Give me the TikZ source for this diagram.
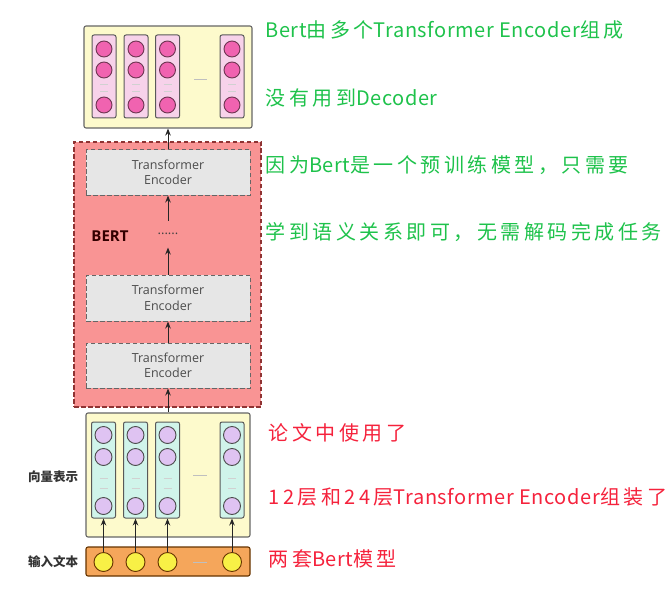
\documentclass[tikz,border=0pt]{standalone}
\usepackage{fontspec}
\setmainfont{Open Sans}
\newfontfamily\cjk{Noto Sans CJK SC}
\newfontfamily\notecjk[LetterSpace=17.5]{Noto Sans CJK SC}
\newfontfamily\notelat[LetterSpace=3]{Noto Sans CJK SC}
\usetikzlibrary{arrows.meta}
\newcommand{\engl}[1]{{\notelat #1}}
\definecolor{paleyellow}{HTML}{FDFACC}
\definecolor{palepink}{HTML}{F7D2EA}
\definecolor{hotpink}{HTML}{F063B0}
\definecolor{plum}{HTML}{6E3552}
\definecolor{salmon}{HTML}{F99494}
\definecolor{encgray}{HTML}{E6E6E6}
\definecolor{mint}{HTML}{D0F4EA}
\definecolor{lavender}{HTML}{DFC3F2}
\definecolor{orangebox}{HTML}{F5A65B}
\definecolor{yellowdot}{HTML}{F8F046}
\definecolor{notegreen}{HTML}{1EC24B}
\definecolor{notered}{HTML}{F5223C}
\tikzset{
  >={Stealth[length=7pt,width=5.5pt]},
  bigbox/.style={draw=gray!80!black, rounded corners=2pt, line width=1.1pt, inner sep=0pt},
  colbox/.style={draw=black!65, rounded corners=2pt, line width=1pt, inner sep=0pt,
    minimum width=24pt, minimum height=#1},
  dot/.style={circle, draw=#1, line width=0.9pt, inner sep=0pt, minimum size=16pt},
  dashline/.style={dash pattern=on 4.5pt off 2.5pt},
  encbox/.style={draw=black!60, dashline, line width=1pt, fill=encgray, inner sep=0pt,
    minimum width=164pt, minimum height=45pt, align=center, text=black!70,
    font=\fontsize{12.5}{15.5}\selectfont},
  sidelbl/.style={font=\cjk\bfseries\fontsize{12.5}{14}\selectfont, text=black!80},
  note/.style={anchor=west, inner sep=0pt, text=#1, font=\notecjk\fontsize{20}{24}\selectfont},
  gapmark/.style={draw=black!25, line width=0.8pt},
  faint/.style={draw=black!18, line width=0.6pt},
}

\begin{document}
\begin{tikzpicture}[x=1pt, y=-1pt, ->, line width=1pt, draw=black!85]
\useasboundingbox (0,0) rectangle (668,588);

% output vectors
\node[bigbox, fill=paleyellow, minimum width=168pt, minimum height=102pt] (out) at (168,77) {};
\foreach \x/\n in {104/1,136/2,167.5/3,232/4} {
  \node[colbox=83pt, fill=palepink] (oc\n) at (\x,76.5) {};
  \foreach \y in {49,70,105}
    \node[dot=plum, fill=hotpink] at (\x,\y) {};
  \draw[faint,-] (\x-4,84) -- (\x+4,84);
  \draw[faint,-] (\x-4,91) -- (\x+4,91);
}
\draw[gapmark,-] (194,79) -- (207,79);

% BERT stack
\node[bigbox, draw=black!55!red!80, dashline, line width=1.2pt, rounded corners=0pt, fill=salmon,
  minimum width=187pt, minimum height=265pt] (bert) at (167.5,274.5) {};
\node[encbox] (enc3) at (168,172.5) {Transformer\\Encoder};
\node[encbox, minimum height=46pt] (enc2) at (168,298) {Transformer\\Encoder};
\node[encbox] (enc1) at (168,365.5) {Transformer\\Encoder};
\node[font=\bfseries\fontsize{15}{18}\selectfont, text=black!80!red] (bertlbl) at (110,236) {BERT};
\node[inner sep=0pt, minimum height=26pt, font=\fontsize{13}{14}\selectfont, text=black!75] (dots) at (168,234) {......};

% input vectors
\node[bigbox, fill=paleyellow, minimum width=164pt, minimum height=124pt] (vec) at (168,475) {};
\node[bigbox, draw=black!60!orange, fill=orangebox, minimum width=164pt, minimum height=29pt] (inp) at (168,561.5) {};
\foreach \x/\n in {103.5/1,135.5/2,167.5/3,232/4} {
  \node[colbox=96pt, fill=mint] (vc\n) at (\x,470) {};
  \foreach \y in {435,457,506}
    \node[dot=black!70, fill=lavender, minimum size=17pt] at (\x,\y) {};
  \draw[faint,-] (\x-4,478) -- (\x+4,478);
  \draw[faint,-] (\x-4,488) -- (\x+4,488);
  \node[dot=black!60!orange, fill=yellowdot, minimum size=19pt] (ic\n) at (\x,562) {};
  \draw (ic\n.north) -- (vc\n.south);
}
\draw[gapmark,-] (193,475) -- (207,475);
\draw[gapmark,-] (193,562) -- (207,562);

\node[sidelbl] (veclbl) at (53,477) {向量表示};
\node[sidelbl] (inplbl) at (53,562) {输入文本};

\draw (vec.north) -- (enc1.south);
\draw (enc1.north) -- (enc2.south);
\draw (enc2.north) -- (dots.south);
\draw (dots.north) -- (enc3.south);
\draw (enc3.north) -- (out.south);

% notes
\node[note=notegreen] (g1) at (265,30) {\engl{Bert}由多个\engl{Transformer Encoder}组成};
\node[note=notegreen] (g2) at (265,98) {没有用到\engl{Decoder}};
\node[note=notegreen] (g3) at (265,165) {因为\engl{Bert}是一个预训练模型，只需要};
\node[note=notegreen] (g4) at (265,232) {学到语义关系即可，无需解码完成任务};
\node[note=notered] (r1) at (268,433) {论文中使用了};
\node[note=notered] (r2) at (268,497) {12层和24层\engl{Transformer Encoder}组装了};
\node[note=notered] (r3) at (268,559) {两套\engl{Bert}模型};
\end{tikzpicture}
\end{document}
